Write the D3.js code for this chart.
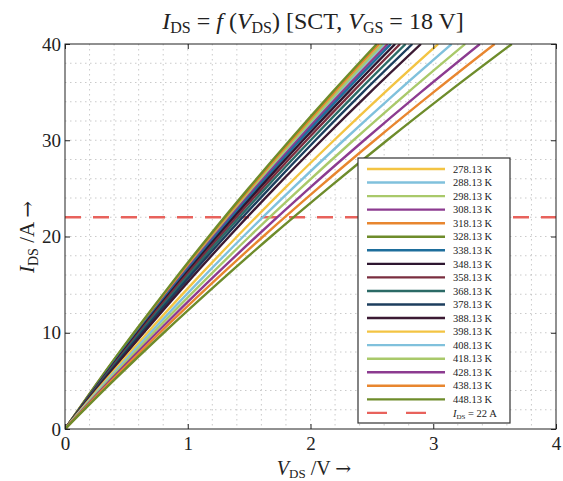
<!DOCTYPE html>
<html>
<head>
<meta charset="utf-8">
<script src="https://cdn.jsdelivr.net/npm/d3@7"></script>
<style>
  html, body { margin: 0; padding: 0; background: #fff; }
  svg { display: block; }
  text { font-family: 'Liberation Serif', 'DejaVu Serif', serif; fill: #222; }
</style>
</head>
<body>
<svg id="chart" width="563" height="481"></svg>
<script>
// temperatures (legend labels)
const temps = ['278.13', '288.13', '298.13', '308.13', '318.13', '328.13', '338.13', '348.13', '358.13',
  '368.13', '378.13', '388.13', '398.13', '408.13', '418.13', '428.13', '438.13', '448.13']

const colors = ['#f3c443', '#80c1dc', '#a9c96a', '#8c3b90', '#e8862f', '#6e8c2b', '#1e6e9c', '#2e1630', '#7a2e3f',
  '#2b6a66', '#1d3e5e', '#3b1a33', '#f3c443', '#80c1dc', '#a9c96a', '#8c3b90', '#e8862f', '#6e8c2b']

// drain current levels (A) at which V_DS was read
const currentLevels = [0, 5, 10, 15, 20, 25, 30, 35, 40]

// V_DS (V) per temperature, one row per entry of temps
const vds = [
  [0, 0.282, 0.578, 0.885, 1.206, 1.539, 1.885, 2.244, 2.615],
  [0, 0.281, 0.574, 0.880, 1.199, 1.530, 1.874, 2.231, 2.60],
  [0, 0.279, 0.571, 0.875, 1.192, 1.522, 1.864, 2.218, 2.585],
  [0, 0.284, 0.581, 0.891, 1.213, 1.548, 1.896, 2.257, 2.63],
  [0, 0.276, 0.566, 0.867, 1.180, 1.507, 1.846, 2.196, 2.56],
  [0, 0.274, 0.561, 0.860, 1.171, 1.495, 1.831, 2.179, 2.54],
  [0, 0.287, 0.586, 0.899, 1.224, 1.563, 1.914, 2.278, 2.655],
  [0, 0.291, 0.594, 0.911, 1.240, 1.583, 1.939, 2.308, 2.69],
  [0, 0.295, 0.603, 0.924, 1.259, 1.607, 1.968, 2.342, 2.73],
  [0, 0.300, 0.613, 0.940, 1.280, 1.633, 2.001, 2.381, 2.775],
  [0, 0.306, 0.625, 0.958, 1.305, 1.666, 2.040, 2.428, 2.83],
  [0, 0.313, 0.641, 0.982, 1.337, 1.707, 2.091, 2.488, 2.90],
  [0, 0.328, 0.672, 1.029, 1.402, 1.789, 2.192, 2.608, 3.04],
  [0, 0.340, 0.696, 1.067, 1.452, 1.854, 2.271, 2.703, 3.15],
  [0, 0.352, 0.720, 1.104, 1.503, 1.919, 2.350, 2.797, 3.26],
  [0, 0.365, 0.747, 1.144, 1.559, 1.989, 2.437, 2.900, 3.38],
  [0, 0.378, 0.773, 1.185, 1.614, 2.060, 2.523, 3.003, 3.50],
  [0, 0.393, 0.804, 1.233, 1.678, 2.143, 2.624, 3.123, 3.64]
]

const limitCurrent = 22
const xTicks = [0, 1, 2, 3, 4]
const yTicks = [0, 10, 20, 30, 40]

const margin = { top: 44, right: 7, bottom: 52, left: 65 }
const width = 563
const height = 481
const iw = width - margin.left - margin.right
const ih = height - margin.top - margin.bottom

const svg = d3.select('#chart')
const g = svg.append('g').attr('transform', `translate(${margin.left},${margin.top})`)

const x = d3.scaleLinear().domain([0, 4]).range([0, iw])
const y = d3.scaleLinear().domain([0, 40]).range([ih, 0])

svg.append('defs').append('clipPath').attr('id', 'plotClip')
  .append('rect').attr('width', iw).attr('height', ih)

// dotted grid every 0.2 V / 2 A
const grid = g.append('g').attr('stroke', '#bdbdbd').attr('stroke-width', 0.8).attr('stroke-dasharray', '1.5,3.5')
grid.selectAll('line.gx').data(d3.range(1, 20).map(d => d * 0.2)).join('line')
  .attr('x1', d => x(d)).attr('x2', d => x(d)).attr('y1', 0).attr('y2', ih)
grid.selectAll('line.gy').data(d3.range(1, 20).map(d => d * 2)).join('line')
  .attr('y1', d => y(d)).attr('y2', d => y(d)).attr('x1', 0).attr('x2', iw)

// limit line
g.append('line')
  .attr('x1', x(0)).attr('x2', iw)
  .attr('y1', y(limitCurrent)).attr('y2', y(limitCurrent))
  .attr('stroke', '#e8625c').attr('stroke-width', 2.5).attr('stroke-dasharray', '16,12')

const line = d3.line()
  .x(d => x(d[0]))
  .y(d => y(d[1]))
  .curve(d3.curveMonotoneX)

g.append('g').attr('clip-path', 'url(#plotClip)')
  .selectAll('path')
  .data(vds)
  .join('path')
  .attr('d', row => line(row.map((v, i) => [v, currentLevels[i]])))
  .attr('fill', 'none')
  .attr('stroke', (_, i) => colors[i])
  .attr('stroke-width', 2.4)

// frame
g.append('rect').attr('width', iw).attr('height', ih)
  .attr('fill', 'none').attr('stroke', '#222').attr('stroke-width', 1)

// axes with inward ticks
const xAxis = g.append('g').attr('transform', `translate(0,${ih})`)
  .call(d3.axisBottom(x).tickValues(xTicks).tickSize(-5).tickPadding(6).tickFormat(d3.format('d')))
const xAxisTop = g.append('g')
  .call(d3.axisTop(x).tickValues(xTicks).tickSize(-5).tickFormat(''))
const yAxis = g.append('g')
  .call(d3.axisLeft(y).tickValues(yTicks).tickSize(-5).tickPadding(6).tickFormat(d3.format('d')))
const yAxisR = g.append('g').attr('transform', `translate(${iw},0)`)
  .call(d3.axisRight(y).tickValues(yTicks).tickSize(-5).tickFormat(''))

;[xAxis, xAxisTop, yAxis, yAxisR].forEach(a => {
  a.select('.domain').remove()
  a.selectAll('.tick line').attr('stroke', '#222')
  a.selectAll('text').attr('font-size', 19).attr('fill', '#333')
    .attr('font-family', "'Liberation Serif', serif")
})
xAxis.selectAll('text').attr('dy', '0.8em')
yAxis.selectAll('text').attr('dx', '2')

// title
const title = svg.append('text').attr('x', 313).attr('y', 29).attr('text-anchor', 'middle').attr('font-size', 24)
title.append('tspan').attr('font-style', 'italic').text('I')
title.append('tspan').attr('font-size', 16).attr('dy', 4).text('DS')
title.append('tspan').attr('dy', -4).text(' = ')
title.append('tspan').attr('font-style', 'italic').text('f')
title.append('tspan').text(' (')
title.append('tspan').attr('font-style', 'italic').text('V')
title.append('tspan').attr('font-size', 16).attr('dy', 4).text('DS')
title.append('tspan').attr('dy', -4).text(') [SCT, ')
title.append('tspan').attr('font-style', 'italic').text('V')
title.append('tspan').attr('font-size', 16).attr('dy', 4).text('GS')
title.append('tspan').attr('dy', -4).text(' = 18 V]')

// x label
const xl = svg.append('text').attr('x', 314).attr('y', 475).attr('text-anchor', 'middle').attr('font-size', 20)
xl.append('tspan').attr('font-style', 'italic').text('V')
xl.append('tspan').attr('font-size', 13).attr('dy', 3).text('DS')
xl.append('tspan').attr('dy', -3).text(' /V ')
xl.append('tspan').attr('font-family', "'DejaVu Serif', serif").attr('font-size', 19).text('→')

// y label
const yl = svg.append('text').attr('transform', 'translate(34,237) rotate(-90)')
  .attr('text-anchor', 'middle').attr('font-size', 21)
yl.append('tspan').attr('font-style', 'italic').text('I')
yl.append('tspan').attr('font-size', 14).attr('dy', 4).text('DS')
yl.append('tspan').attr('dy', -4).text(' /A ')
yl.append('tspan').attr('font-family', "'DejaVu Serif', serif").attr('font-size', 20).text('→')

// legend
const lg = svg.append('g').attr('transform', 'translate(358,158)')
lg.append('rect').attr('width', 152).attr('height', 265)
  .attr('fill', '#fff').attr('stroke', '#333').attr('stroke-width', 1.2)
const rowH = 13.55
const items = lg.selectAll('g.item').data(temps).join('g')
  .attr('transform', (_, i) => `translate(0,${11 + i * rowH})`)
items.append('line').attr('x1', 9).attr('x2', 87)
  .attr('stroke', (_, i) => colors[i]).attr('stroke-width', 2.4)
items.append('text').attr('x', 95).attr('dy', '0.35em').attr('font-size', 10.5).attr('fill', '#333')
  .text(d => `${d} K`)
const lim = lg.append('g').attr('transform', `translate(0,${11 + 18 * rowH})`)
lim.append('line').attr('x1', 9).attr('x2', 87)
  .attr('stroke', '#e8625c').attr('stroke-width', 2.4).attr('stroke-dasharray', '20,19')
const lt = lim.append('text').attr('x', 95).attr('dy', '0.35em').attr('font-size', 10.5).attr('fill', '#333')
lt.append('tspan').attr('font-style', 'italic').text('I')
lt.append('tspan').attr('font-size', 7).attr('dy', 2).text('DS')
lt.append('tspan').attr('dy', -2).text(` = ${limitCurrent} A`)
</script>
</body>
</html>
